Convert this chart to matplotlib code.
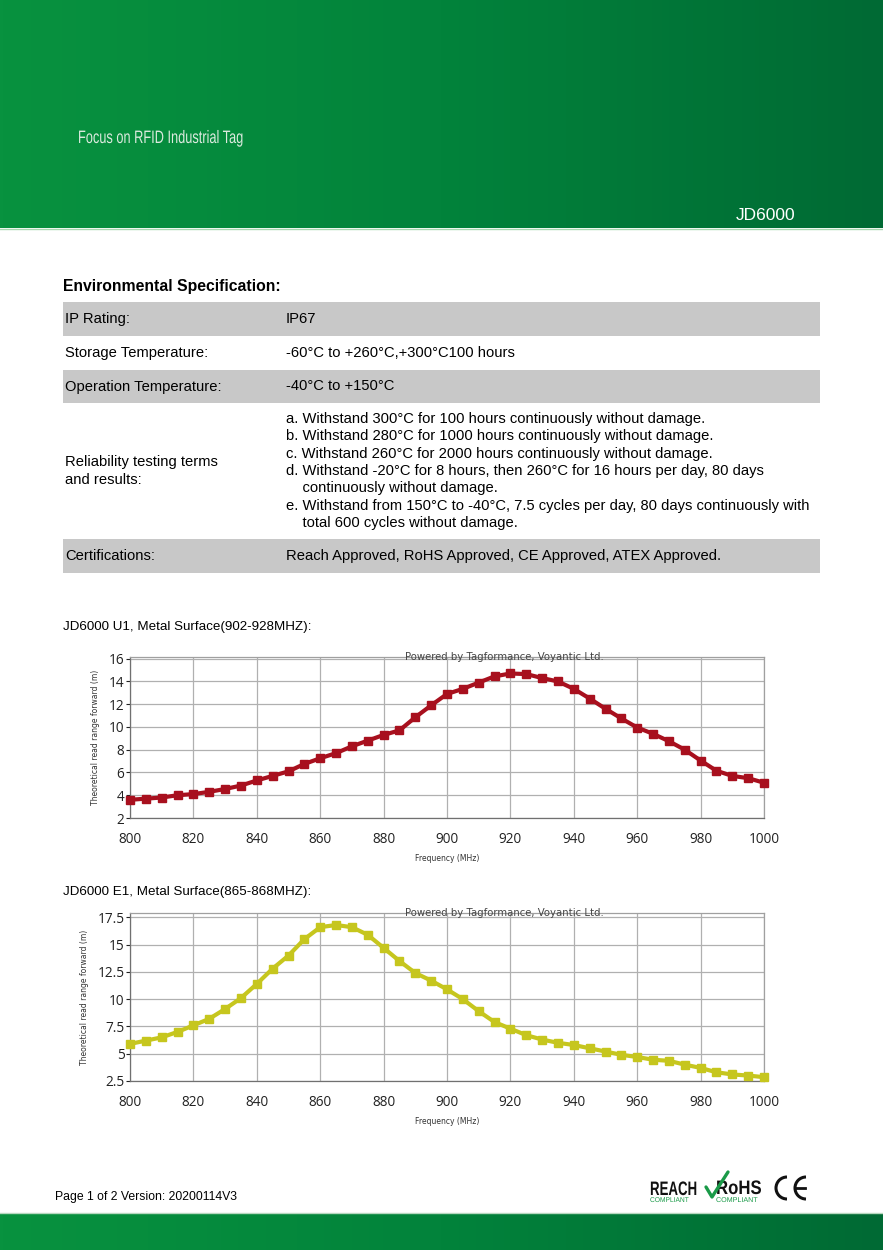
import numpy as np
import matplotlib.pyplot as plt
from matplotlib.colors import LinearSegmentedColormap
from matplotlib.patches import Rectangle, PathPatch, Arc
from matplotlib.textpath import TextPath
from matplotlib.font_manager import FontProperties
from matplotlib.transforms import Affine2D

W, H = 883, 1250

# spec table
spec_labels = ['IP Rating:', 'Storage Temperature:', 'Operation Temperature:',
               'Reliability testing terms\nand results:', 'Certifications:']
spec_values = [
    'IP67',
    '-60°C to +260°C,+300°C100 hours',
    '-40°C to +150°C',
    'a. Withstand 300°C for 100 hours continuously without damage.\n'
    'b. Withstand 280°C for 1000 hours continuously without damage.\n'
    'c. Withstand 260°C for 2000 hours continuously without damage.\n'
    'd. Withstand -20°C for 8 hours, then 260°C for 16 hours per day, 80 days\n'
    '    continuously without damage.\n'
    'e. Withstand from 150°C to -40°C, 7.5 cycles per day, 80 days continuously with\n'
    '    total 600 cycles without damage.',
    'Reach Approved, RoHS Approved, CE Approved, ATEX Approved.',
]

# read range curves (MHz -> m)
freq = [800, 805, 810, 815, 820, 825, 830, 835, 840, 845, 850, 855, 860, 865,
        870, 875, 880, 885, 890, 895, 900, 905, 910, 915, 920, 925, 930, 935,
        940, 945, 950, 955, 960, 965, 970, 975, 980, 985, 990, 995, 1000]
u1_range = [3.6, 3.7, 3.8, 4.0, 4.1, 4.3, 4.55, 4.85, 5.3, 5.7, 6.1, 6.75, 7.25,
            7.7, 8.3, 8.8, 9.3, 9.7, 10.85, 11.9, 12.9, 13.35, 13.9, 14.45, 14.7,
            14.65, 14.3, 14.0, 13.35, 12.5, 11.6, 10.75, 9.95, 9.4, 8.75, 8.0,
            7.05, 6.15, 5.7, 5.5, 5.1]
e1_range = [5.9, 6.2, 6.5, 7.0, 7.6, 8.2, 9.1, 10.1, 11.4, 12.8, 14.0, 15.5, 16.6,
            16.8, 16.6, 15.9, 14.7, 13.5, 12.4, 11.7, 10.9, 10.0, 8.9, 7.9, 7.3,
            6.7, 6.3, 6.0, 5.8, 5.5, 5.2, 4.9, 4.7, 4.45, 4.35, 4.0, 3.7, 3.3,
            3.1, 3.0, 2.85]
x_ticks = [800, 820, 840, 860, 880, 900, 920, 940, 960, 980, 1000]
u1_yticks = [2, 4, 6, 8, 10, 12, 14, 16]
e1_yticks = [2.5, 5, 7.5, 10, 12.5, 15, 17.5]
e1_ylabels = ['2.5', '5', '7.5', '10', '12.5', '15', '17.5']

fig = plt.figure(figsize=(W / 100, H / 100), dpi=100)
bg = fig.add_axes([0, 0, 1, 1])
bg.set_zorder(0)

green = LinearSegmentedColormap.from_list('g', ['#08923f', '#02833b', '#006a34'])
grad = np.linspace(0, 1, 256).reshape(1, -1)
bg.imshow(grad, extent=[0, W, 228, 0], cmap=green, aspect='auto')
bg.imshow(grad, extent=[0, W, H, 1213], cmap=green, aspect='auto')
bg.plot([0, W], [229, 229], color='#a8d8b0', lw=1)
bg.plot([0, W], [1212.5, 1212.5], color='#b8d8c0', lw=1)
bg.set_xlim(0, W)
bg.set_ylim(H, 0)
bg.axis('off')


def squeeze_text(x, y, s, size, sx, color, weight='normal'):
    # narrow text drawn as a path, (x, y) = left baseline in pixels
    tp = TextPath((0, 0), s, size=size,
                  prop=FontProperties(family='Liberation Sans', weight=weight))
    tr = Affine2D().scale(sx, -1).translate(x, y)
    bg.add_patch(PathPatch(tp, transform=tr + bg.transData, color=color, lw=0))


squeeze_text(78, 143, 'Focus on RFID Industrial Tag', 18, 0.71, '#dcebdf')
bg.text(736, 216, 'JD6000', color='white', fontsize=12.5,
        family='Liberation Sans', va='center')

# spec table
bg.text(63, 286, 'Environmental Specification:', fontsize=11.3, weight='bold',
        family='Liberation Sans', va='center')
rows = [(302, 336), (336, 370), (370, 403), (403, 539), (539, 573)]
for i, (top, bot) in enumerate(rows):
    if i % 2 == 0:
        bg.add_patch(Rectangle((63, top), 757, bot - top, color='#c8c8c8', lw=0))
    mid = (top + bot) / 2
    bg.text(65, mid, spec_labels[i], fontsize=10.6, family='Liberation Sans',
            va='center', linespacing=1.3)
    bg.text(286, mid, spec_values[i], fontsize=10.6, family='Liberation Sans',
            va='center', linespacing=1.3)


def px_axes(l, t, r, b):
    return fig.add_axes([l / W, 1 - b / H, (r - l) / W, (b - t) / H])


def draw_chart(ax, y, color, yticks, ylabels, ylim):
    ax.plot(freq, y, color=color, lw=3, marker='s', markersize=5.8,
            markerfacecolor=color, markeredgecolor=color, zorder=3, clip_on=False)
    ax.set_xlim(800, 1000)
    ax.set_ylim(*ylim)
    ax.set_xticks(x_ticks)
    ax.set_yticks(yticks)
    ax.set_yticklabels(ylabels)
    ax.grid(True, color='#b0b0b0', lw=0.9)
    ax.set_axisbelow(True)
    for s in ax.spines.values():
        s.set_color('#a0a0a0')
        s.set_linewidth(0.9)
    ax.spines['left'].set_color('#707070')
    ax.spines['bottom'].set_color('#707070')
    ax.tick_params(axis='y', labelsize=9.8, colors='#222222', length=3, width=0.8, pad=1)
    ax.tick_params(axis='x', labelsize=9.8, colors='#222222', length=0, pad=10)
    for lab in ax.get_xticklabels() + ax.get_yticklabels():
        lab.set_family('Open Sans')
    ax.set_xlabel('Frequency (MHz)', fontsize=5.5, color='#333333', labelpad=5)
    ax.set_ylabel('Theoretical read range forward (m)', fontsize=5.5,
                  color='#333333', labelpad=6)
    ax.text(0.59, 1.0, 'Powered by Tagformance, Voyantic Ltd.', transform=ax.transAxes,
            fontsize=7.3, color='#444444', ha='center', va='center', clip_on=False)


bg.text(63, 627, 'JD6000 U1, Metal Surface(902-928MHZ):', fontsize=9.6,
        family='Liberation Sans', va='center')
ax1 = px_axes(130, 657, 764, 818)
draw_chart(ax1, u1_range, '#a8101e', u1_yticks, [str(v) for v in u1_yticks], (2, 16.15))

bg.text(63, 892, 'JD6000 E1, Metal Surface(865-868MHZ):', fontsize=9.6,
        family='Liberation Sans', va='center')
ax2 = px_axes(130, 913, 764, 1081)
draw_chart(ax2, e1_range, '#c6c61e', e1_yticks, e1_ylabels, (2.5, 17.9))

# footer
bg.text(55, 1197, 'Page 1 of 2 Version: 20200114V3', fontsize=8.8,
        family='Liberation Sans', va='center')
squeeze_text(650, 1195, 'REACH', 19.5, 0.68, '#111111', weight='bold')
squeeze_text(650, 1202, 'COMPLIANT', 7, 0.95, '#1a9a48')
squeeze_text(716, 1194, 'RoHS', 19.5, 0.86, '#111111', weight='bold')
squeeze_text(716, 1202, 'COMPLIANT', 7, 1.02, '#1a9a48')
bg.plot([706, 712, 728], [1187, 1197, 1172], color='#1a9a48', lw=2.4,
        solid_capstyle='round')
# CE mark
bg.add_patch(Arc((787, 1188), 22, 22, theta1=90, theta2=270, color='#111111', lw=2.2))
bg.add_patch(Arc((806, 1188), 22, 22, theta1=90, theta2=270, color='#111111', lw=2.2))
bg.plot([796, 805], [1188, 1188], color='#111111', lw=2)
bg.set_xlim(0, W)
bg.set_ylim(H, 0)

fig.savefig('out.png', dpi=100)
